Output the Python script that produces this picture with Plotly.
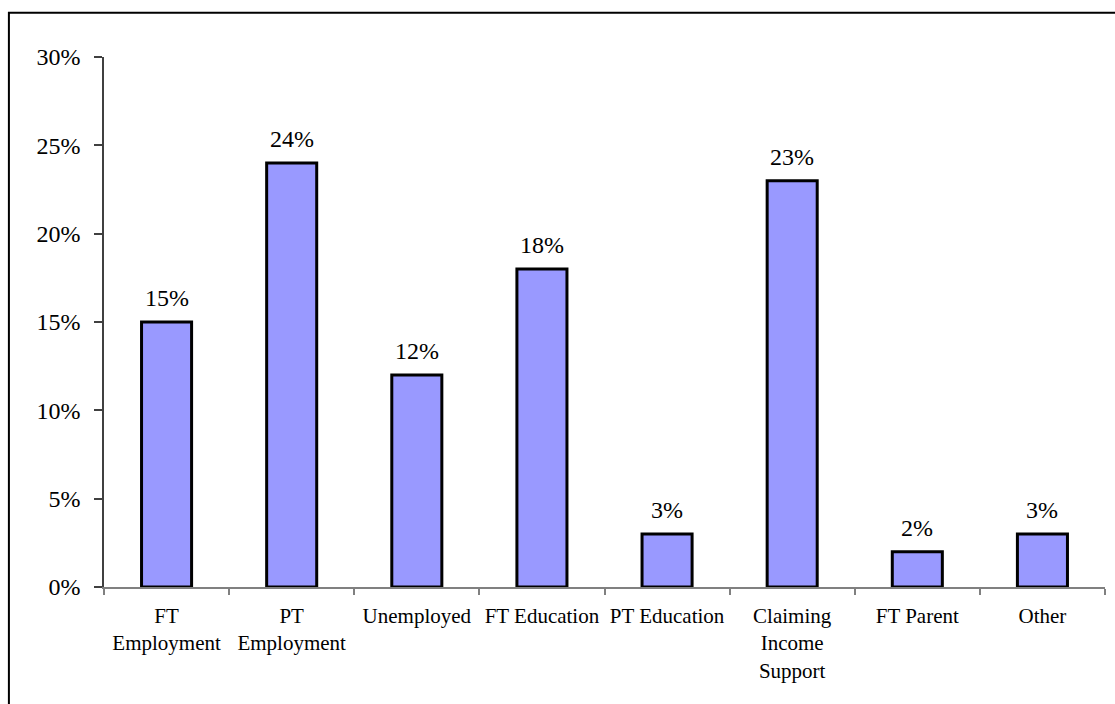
import plotly.graph_objects as go

# Destination shares by category
categories = [
    "FT<br>Employment",
    "PT<br>Employment",
    "Unemployed",
    "FT Education",
    "PT Education",
    "Claiming<br>Income<br>Support",
    "FT Parent",
    "Other",
]
shares = [15, 24, 12, 18, 3, 23, 2, 3]
y_ticks = [0, 5, 10, 15, 20, 25, 30]
y_tick_labels = [f"{v}%" for v in y_ticks]

FONT = "Liberation Serif, Times New Roman, serif"

fig = go.Figure(
    go.Bar(
        x=categories,
        y=shares,
        width=0.4,
        marker=dict(color="#9999FF", line=dict(color="black", width=3)),
        hoverinfo="skip",
    )
)

# Value labels above each bar
for cat, val in zip(categories, shares):
    fig.add_annotation(
        x=cat, y=val, text=f"{val}%", showarrow=False,
        yanchor="bottom", yshift=9,
        font=dict(family=FONT, size=24, color="black"),
    )

# Outer frame around the chart (only top and left edges fall inside the page)
fig.add_shape(
    type="rect", xref="paper", yref="paper",
    x0=-0.095, x1=1.2, y0=-0.4, y1=1.0835,
    line=dict(color="black", width=2),
)

fig.update_layout(
    width=1115, height=704,
    margin=dict(l=104, r=10, t=57, b=117),
    paper_bgcolor="white", plot_bgcolor="white",
    showlegend=False,
    font=dict(family=FONT, color="black"),
)
fig.update_xaxes(
    type="category",
    showline=True, linecolor="#808080", linewidth=1.5,
    ticks="outside", tickson="boundaries", ticklen=6, tickcolor="#808080", tickwidth=1.5,
    tickfont=dict(family=FONT, size=21, color="black"),
    ticklabelstandoff=9,
    showgrid=False, zeroline=False,
)
fig.update_yaxes(
    range=[0, 30],
    tickvals=y_ticks, ticktext=y_tick_labels,
    showline=True, linecolor="#404040", linewidth=1.5,
    ticks="outside", ticklen=8, tickcolor="#404040", tickwidth=1.5,
    tickfont=dict(family=FONT, size=24, color="black"),
    ticklabelstandoff=9,
    showgrid=False, zeroline=False,
)

fig.write_html("out.html")
